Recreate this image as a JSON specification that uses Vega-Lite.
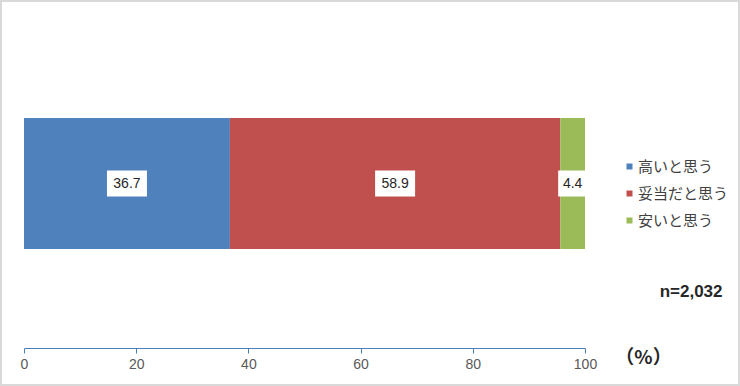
{
  "$schema": "https://vega.github.io/schema/vega-lite/v6.json",
  "width": 740,
  "height": 386,
  "autosize": "none",
  "padding": 0,
  "background": "white",
  "config": {
    "view": {"stroke": "#d9d9d9", "strokeWidth": 4},
    "font": "Liberation Sans"
  },
  "data": {
    "values": [
      {"cat": "高いと思う", "pct": 36.7, "i": 1},
      {"cat": "妥当だと思う", "pct": 58.9, "i": 2},
      {"cat": "安いと思う", "pct": 4.4, "i": 3}
    ]
  },
  "encoding": {
    "y": {
      "datum": "r",
      "type": "nominal",
      "scale": {"domain": ["r"], "range": [118, 249], "paddingInner": 0, "paddingOuter": 0},
      "axis": {
        "labels": false, "ticks": false, "domain": false, "grid": false,
        "title": "n=2,032", "titleAngle": 0, "titleX": 722, "titleY": 291,
        "titleAlign": "right", "titleBaseline": "middle",
        "titleFontSize": 17, "titleFontWeight": "bold", "titleColor": "#262626",
        "titleFont": "Liberation Sans"
      }
    }
  },
  "layer": [
    {
      "mark": {"type": "bar"},
      "encoding": {
        "x": {
          "field": "pct", "type": "quantitative", "stack": "zero",
          "scale": {"domain": [0, 100], "range": [24, 585], "nice": false, "zero": true},
          "axis": {
            "orient": "bottom", "offset": -38, "grid": false,
            "values": [0, 20, 40, 60, 80, 100],
            "labelFlush": false, "labelOverlap": false,
            "domainColor": "#4a7ebb", "tickColor": "#4a7ebb", "tickSize": 5,
            "domainWidth": 1, "tickWidth": 1,
            "labelPadding": 4, "labelFontSize": 14, "labelColor": "#595959",
            "labelFont": "Liberation Sans",
            "title": "（%）", "titleX": 643, "titleY": 9,
            "titleAlign": "center", "titleBaseline": "middle",
            "titleFontSize": 19, "titleFontWeight": "bold", "titleColor": "#262626",
            "titleFont": "Noto Sans CJK JP"
          }
        },
        "color": {
          "field": "cat", "type": "nominal",
          "scale": {
            "domain": ["高いと思う", "妥当だと思う", "安いと思う"],
            "range": ["#4f81bd", "#c0504d", "#9bbb59"]
          },
          "legend": {
            "orient": "none", "legendX": 622, "legendY": 159, "title": null,
            "symbolType": "square", "symbolSize": 36, "symbolStrokeWidth": 0,
            "labelFontSize": 15, "labelFont": "Noto Sans CJK JP", "labelColor": "#404040",
            "rowPadding": 11, "labelOffset": 1, "padding": 0
          }
        },
        "order": {"field": "i", "type": "quantitative"}
      }
    },
    {
      "transform": [
        {"stack": "pct", "groupby": [], "sort": [{"field": "i", "order": "ascending"}], "as": ["v0", "v1"]},
        {"fold": ["v0", "v1"], "as": ["k", "pos"]},
        {"aggregate": [{"op": "mean", "field": "pos", "as": "mid"}, {"op": "max", "field": "pct", "as": "pct"}], "groupby": ["cat"]}
      ],
      "mark": {"type": "point", "filled": true, "fill": "white", "opacity": 1, "strokeWidth": 0, "size": 1600},
      "encoding": {
        "x": {"field": "mid", "type": "quantitative"},
        "shape": {
          "condition": {"test": "datum.pct < 10", "value": "M-0.725,-0.65H0.725V0.65H-0.725Z"},
          "value": "M-1,-0.65H1V0.65H-1Z"
        }
      }
    },
    {
      "transform": [
        {"stack": "pct", "groupby": [], "sort": [{"field": "i", "order": "ascending"}], "as": ["v0", "v1"]},
        {"fold": ["v0", "v1"], "as": ["k", "pos"]},
        {"aggregate": [{"op": "mean", "field": "pos", "as": "mid"}, {"op": "max", "field": "pct", "as": "pct"}], "groupby": ["cat"]}
      ],
      "mark": {"type": "text", "fontSize": 14, "font": "Liberation Sans", "color": "#262626", "align": "center", "baseline": "middle"},
      "encoding": {
        "x": {"field": "mid", "type": "quantitative"},
        "text": {"field": "pct", "type": "quantitative", "format": ".1f"}
      }
    }
  ]
}
